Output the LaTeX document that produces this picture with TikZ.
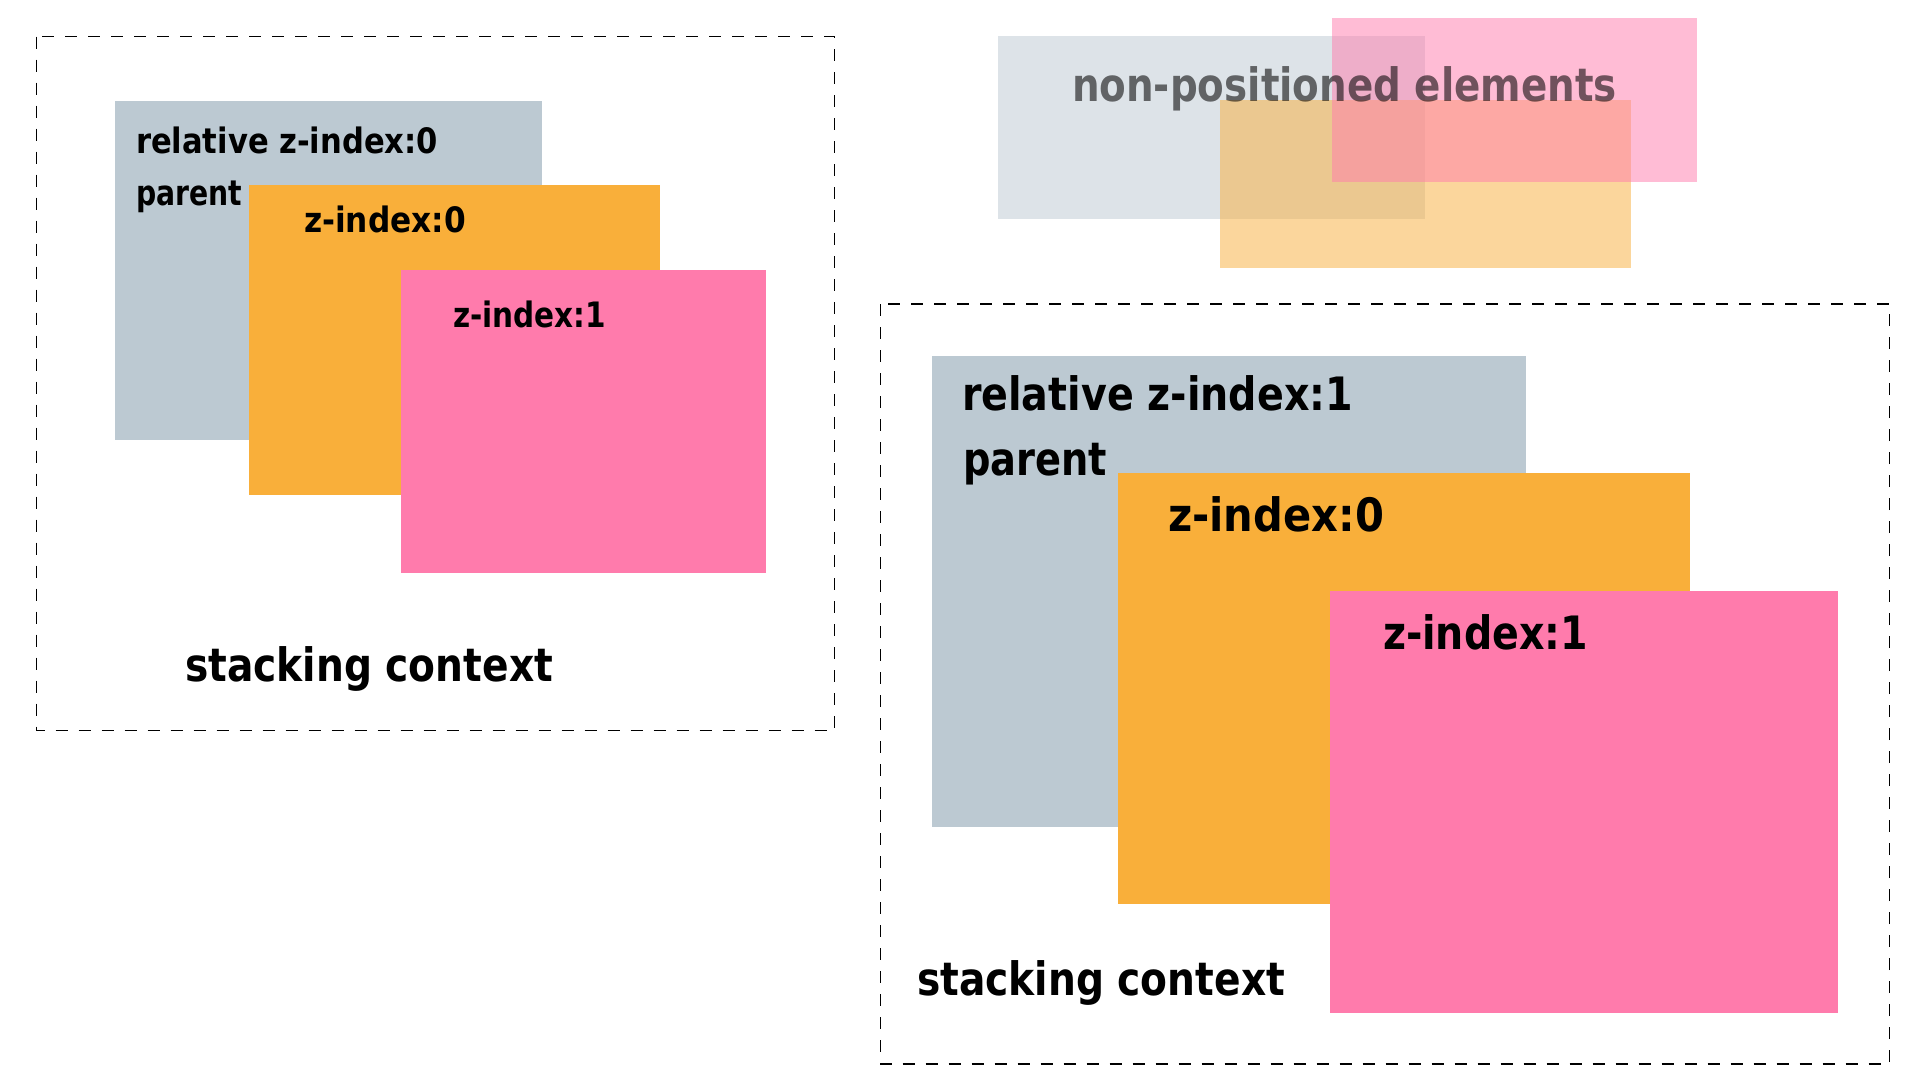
\documentclass[tikz,border=0pt]{standalone}
\usepackage{fontspec}
\setmainfont{DejaVu Sans}
\usepackage{graphicx}
\definecolor{cgrey}{HTML}{BCC9D2}
\definecolor{corange}{HTML}{F9AF3A}
\definecolor{cpink}{HTML}{FF7BAC}
\newcommand{\fitw}[2]{\resizebox{#1}{\height}{#2}}
\tikzset{
  ctxbox/.style={draw=black, line width=1.4pt, dash pattern=on 12pt off 11pt},
  lbl/.style={anchor=base west, inner sep=0pt, outer sep=0pt, text=black},
  small/.style={lbl, font=\fontsize{35}{40}\selectfont\bfseries},
  big/.style={lbl, font=\fontsize{46}{52}\selectfont\bfseries},
  ctxlbl/.style={lbl, font=\fontsize{46}{52}\selectfont\bfseries},
  faded/.style={text opacity=0.56},
}
\begin{document}
\begin{tikzpicture}[x=1pt,y=-1pt]
\useasboundingbox[fill=white] (0,0) rectangle (1920,1080);

% ---- left stacking context ----
\draw[ctxbox] (36.5,36.5) rectangle (834.5,730.5);
\fill[cgrey] (115,101) rectangle (542,440);
\node[small] (lrel) at (136,153) {\fitw{302pt}{relative z-index:0}};
\node[small] (lpar) at (136,205) {\fitw{106pt}{parent}};
\fill[corange] (249,185) rectangle (660,495);
\node[small] (lz0) at (304,232) {\fitw{162pt}{z-index:0}};
\fill[cpink] (401,270) rectangle (766,573);
\node[small] (lz1) at (453,327) {\fitw{153pt}{z-index:1}};
\node[ctxlbl] (lctx) at (185,681) {\fitw{368pt}{stacking context}};

% ---- non-positioned elements ----
\fill[cgrey, opacity=0.5] (998,36) rectangle (1425,219);
\fill[corange, opacity=0.5] (1220,100) rectangle (1631,268);
\fill[cpink, opacity=0.5] (1332,18) rectangle (1697,182);
\node[big, faded] (np) at (1072,101.5) {\fitw{545pt}{non-positioned elements}};

% ---- right stacking context ----
\draw[ctxbox] (880.5,304) rectangle (1889.5,1064);
\fill[cgrey] (932,356) rectangle (1526,827);
\node[big] (rrel) at (962,410) {\fitw{391pt}{relative z-index:1}};
\node[big] (rpar) at (963,475) {\fitw{144pt}{parent}};
\fill[corange] (1118,473) rectangle (1690,904);
\node[big] (rz0) at (1168,531.5) {\fitw{216pt}{z-index:0}};
\fill[cpink] (1330,591) rectangle (1838,1013);
\node[big] (rz1) at (1383,649) {\fitw{205pt}{z-index:1}};
\node[ctxlbl] (rctx) at (917,995) {\fitw{368pt}{stacking context}};
\end{tikzpicture}
\end{document}
